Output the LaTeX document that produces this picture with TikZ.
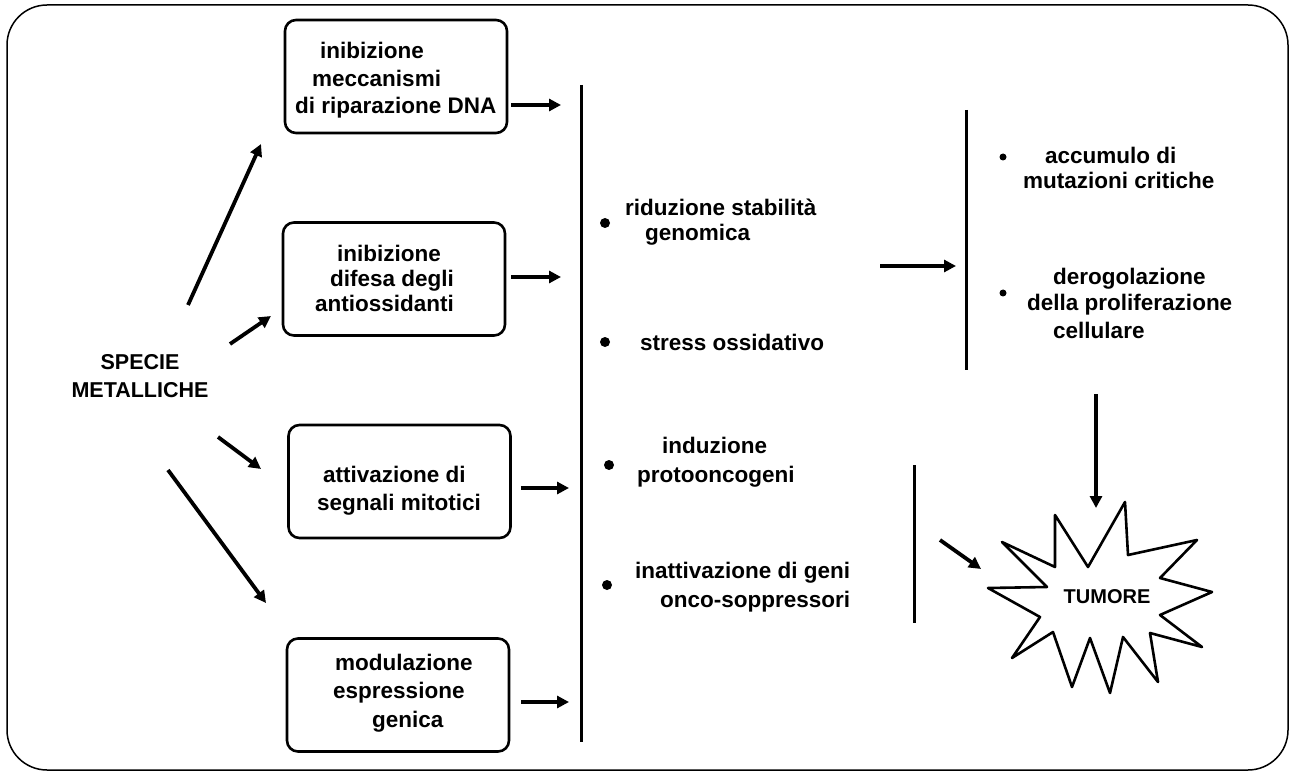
\documentclass[tikz,border=0pt]{standalone}
\usepackage{fontspec}
\setmainfont{Liberation Sans}
\usetikzlibrary{arrows.meta,calc}
\begin{document}
\begin{tikzpicture}[x=1pt,y=-1pt,
  box/.style={draw, line width=2.6pt, rounded corners=11pt, minimum width=222pt, minimum height=113pt, inner sep=0pt},
  arr/.style={line width=3.8pt, -{Triangle[length=12pt,width=12pt]}},
  txt/.style={font=\bfseries\fontsize{22.5}{27}\selectfont, anchor=west, align=left, inner sep=0pt},
  bigdot/.style={circle, fill, inner sep=0pt, minimum size=10pt},
  smalldot/.style={circle, fill, inner sep=0pt, minimum size=7pt},
  vline/.style={line width=3pt}]
\useasboundingbox (0,0) rectangle (1292,775);
\draw[line width=1.5pt, rounded corners=40pt] (7,5) rectangle (1288,770);

% boxes
\node[box] (b1) at (396,76.5) {};
\node[box] (b2) at (394,279) {};
\node[box] (b3) at (399.5,481.5) {};
\node[box] (b4) at (398,695) {};

\node[txt] (t1) at (295,80.5) {\hspace*{25pt}inibizione\\[0.5pt]\hspace*{17pt}meccanismi\\[0.5pt]di riparazione DNA};
\node[txt] (t2) at (315,278) {\hspace*{22pt}inibizione\\[-2pt]\hspace*{15pt}difesa degli\\[-2pt]antiossidanti};
\node[txt] (t3) at (317,491) {\hspace*{6pt}attivazione di\\[1pt]segnali mitotici};
\node[txt] (t4) at (333,693) {\hspace*{2pt}modulazione\\[1.5pt]espressione\\[1.5pt]\hspace*{39pt}genica};

% source
\node[font=\bfseries\fontsize{21.5}{28}\selectfont, align=center, inner sep=0pt] (sp) at (140,376) {SPECIE\\METALLICHE};

% main line
\coordinate (ml1) at (581,85);
\coordinate (ml2) at (581,742);
\draw[vline] (ml1) -- (ml2);

% arrows from source
\coordinate (s1) at (188,305); \coordinate (e1) at (261,144);
\coordinate (s2) at (230,344); \coordinate (e2) at (271,316);
\coordinate (s3) at (218,437); \coordinate (e3) at (261,469);
\coordinate (s4) at (168,470); \coordinate (e4) at (266,603);
\draw[arr] (s1) -- (e1);
\draw[arr] (s2) -- (e2);
\draw[arr] (s3) -- (e3);
\draw[arr] (s4) -- (e4);

% arrows box -> line
\coordinate (f1) at (561,105);
\coordinate (f2) at (561,277);
\coordinate (f3) at (569,488);
\coordinate (f4) at (569,702);
\draw[arr] ($(b1.east |- f1)+(3,0)$) -- (f1);
\draw[arr] ($(b2.east |- f2)+(5,0)$) -- (f2);
\draw[arr] ($(b3.east |- f3)+(9,0)$) -- (f3);
\draw[arr] ($(b4.east |- f4)+(11,0)$) -- (f4);

% middle column
\node[bigdot] (d1) at (605,223) {};
\node[bigdot] (d2) at (605,342) {};
\node[bigdot] (d3) at (609,465) {};
\node[bigdot] (d4) at (607,585) {};
\node[txt] (m1) at (625,222.5) {riduzione stabilità\\[-2pt]\hspace*{20pt}genomica};
\node[txt] (m2) at (640,342) {stress ossidativo};
\node[txt] (m3) at (637,462.5) {\hspace*{25pt}induzione\\[2pt]protooncogeni};
\node[txt] (m4) at (635,587.5) {inattivazione di geni\\[2pt]\hspace*{25pt}onco-soppressori};

% middle -> right
\coordinate (g1) at (880,266);
\coordinate (g2) at (956,266);
\draw[arr] (g1) -- (g2);
\coordinate (rl1) at (966,110);
\coordinate (rl2) at (966,370);
\draw[vline] (rl1) -- (rl2);

% right column
\node[smalldot] (r1d) at (1003,157) {};
\node[smalldot] (r2d) at (1003,293) {};
\node[txt] (r1) at (1023,167.5) {\hspace*{22pt}accumulo di\\[-2pt]mutazioni critiche};
\node[txt] (r2) at (1027,303.5) {\hspace*{26pt}derogolazione\\[-1pt]della proliferazione\\[0.5pt]\hspace*{26pt}cellulare};

% star
\draw[line width=2.6pt, line join=round]
  (1002,542) -- (1055,567) -- (1055,515) -- (1088,567) -- (1125,502) -- (1128,555)
  -- (1197,540) -- (1160,578) -- (1212,592) -- (1160,615) -- (1202,647) -- (1150,633)
  -- (1158,682) -- (1123,637) -- (1110,693) -- (1090,638) -- (1072,687) -- (1053,632)
  -- (1012,658) -- (1040,617) -- (988,588) -- (1047,587) -- cycle;
\node[font=\bfseries\fontsize{20}{24}\selectfont, inner sep=0pt] (tum) at (1107,597) {TUMORE};

% arrows into star
\coordinate (h1) at (1096,394);
\coordinate (h2) at (1096,508);
\draw[arr] (h1) -- (h2);
\coordinate (k1) at (940,540);
\coordinate (k2) at (981,569);
\draw[arr] (k1) -- (k2);
\coordinate (sl1) at (914,465);
\coordinate (sl2) at (914,623);
\draw[vline] (sl1) -- (sl2);
\end{tikzpicture}
\end{document}
